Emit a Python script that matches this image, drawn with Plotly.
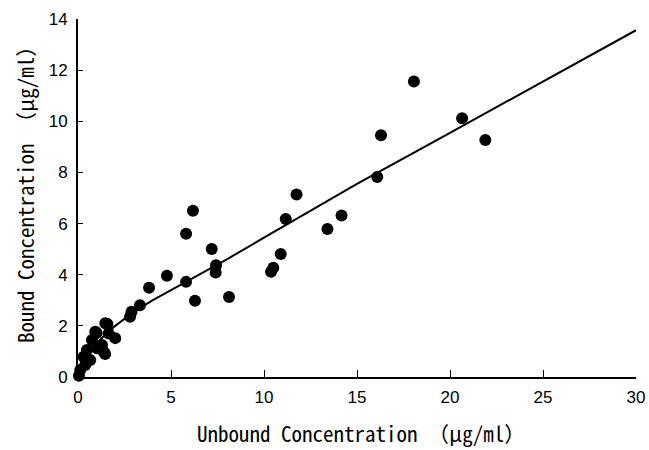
import plotly.graph_objects as go

# Observed data points (unbound, bound) in µg/ml
unbound = [0.05, 0.12, 0.39, 0.30, 0.66, 0.48, 0.75, 1.02, 1.29, 1.38, 1.46, 0.93, 1.00, 1.65,
           1.47, 1.58, 2.00, 2.80, 2.88, 3.33, 3.82, 4.78, 5.81, 6.29, 5.81, 6.18,
           7.19, 7.40, 7.42, 8.12, 10.38, 10.50, 10.90, 11.17, 11.75, 13.41, 14.17,
           16.09, 16.29, 18.06, 20.65, 21.90]
bound = [0.05, 0.27, 0.47, 0.79, 0.66, 1.06, 1.45, 1.12, 1.25, 0.99, 0.90, 1.77, 1.72, 1.70,
         2.10, 2.07, 1.52, 2.36, 2.55, 2.81, 3.49, 3.96, 3.72, 2.98, 5.60, 6.50,
         5.01, 4.09, 4.37, 3.13, 4.12, 4.27, 4.81, 6.18, 7.14, 5.79, 6.32,
         7.82, 9.45, 11.56, 10.12, 9.27]

# Fitted curve
fit_x = [0, 0.25, 0.5, 1, 1.5, 2, 3, 4, 5, 6, 8, 10, 12, 15, 20, 25, 30]
fit_y = [0, 0.45, 0.8, 1.3, 1.7, 2.0, 2.55, 3.0, 3.4, 3.8, 4.6, 5.45, 6.3, 7.55, 9.55, 11.55, 13.56]

x_ticks = [0, 5, 10, 15, 20, 25, 30]
y_ticks = [0, 2, 4, 6, 8, 10, 12, 14]

x_title = "Unbound Concentration （μg/ml）"
y_title = "Bound Concentration （μg/ml）"

title_font = dict(family="Noto Sans Mono CJK JP, DejaVu Sans Mono, monospace", size=21, color="black")
tick_font = dict(family="Liberation Sans, Arial, sans-serif", size=17, color="black")

fig = go.Figure()
fig.add_trace(go.Scatter(x=fit_x, y=fit_y, mode="lines",
                         line=dict(color="black", width=2), cliponaxis=False,
                         hoverinfo="skip", showlegend=False))
fig.add_trace(go.Scatter(x=unbound, y=bound, mode="markers",
                         marker=dict(color="black", size=12, line=dict(width=0)),
                         cliponaxis=False, showlegend=False))

fig.update_layout(
    width=649, height=450,
    margin=dict(l=78, r=13, t=19, b=73),
    paper_bgcolor="white", plot_bgcolor="white",
    xaxis=dict(range=[0, 30], tickvals=x_ticks, ticktext=[str(v) for v in x_ticks],
               ticks="inside", ticklen=7, tickwidth=1, tickcolor="black",
               showline=True, linecolor="black", linewidth=2, showgrid=False, zeroline=False,
               tickfont=tick_font, automargin=False, ticklabelstandoff=4,
               ticklabeloverflow="allow"),
    yaxis=dict(range=[0, 14], tickvals=y_ticks, ticktext=[str(v) for v in y_ticks],
               ticks="inside", ticklen=5, tickwidth=1, tickcolor="black",
               showline=True, linecolor="black", linewidth=2, showgrid=False, zeroline=False,
               tickfont=tick_font, automargin=False, ticklabelstandoff=5),
    annotations=[
        dict(text=x_title, xref="paper", yref="paper", x=0.507, y=-0.156,
             xanchor="center", yanchor="middle", showarrow=False, font=title_font),
        dict(text=y_title, xref="paper", yref="paper", x=-0.095, y=0.525,
             xanchor="center", yanchor="middle", textangle=-90, showarrow=False, font=title_font),
    ],
)

fig.write_html("out.html", config={"displayModeBar": False},
               post_script="document.body.style.margin='0';document.body.style.overflow='hidden';")
